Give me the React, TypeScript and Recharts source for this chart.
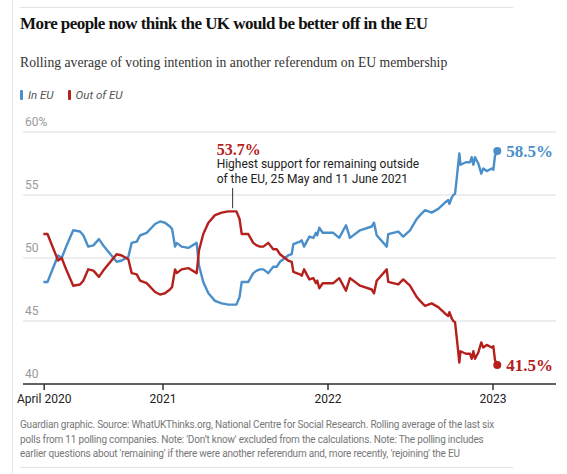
import * as React from 'react';
import { LineChart, Line, CartesianGrid, XAxis, YAxis, ReferenceLine } from 'recharts';

// poll dates as decimal years, rolling averages in %
const pollYear = [
  2020.275, 2020.3, 2020.364, 2020.386, 2020.416, 2020.456, 2020.497, 2020.517, 2020.547, 2020.578,
  2020.612, 2020.638, 2020.719, 2020.75, 2020.79, 2020.81, 2020.841, 2020.861, 2020.901, 2020.952,
  2020.982, 2021.012, 2021.042, 2021.055, 2021.073, 2021.083, 2021.113, 2021.153, 2021.204, 2021.218,
  2021.244, 2021.275, 2021.315, 2021.356, 2021.396, 2021.445, 2021.464, 2021.477, 2021.517, 2021.547,
  2021.568, 2021.588, 2021.608, 2021.638, 2021.668, 2021.689, 2021.709, 2021.739, 2021.758, 2021.78,
  2021.79, 2021.83, 2021.841, 2021.855, 2021.887, 2021.911, 2021.927, 2021.935, 2021.947, 2021.968,
  2022.032, 2022.068, 2022.109, 2022.133, 2022.194, 2022.265, 2022.279, 2022.295, 2022.356, 2022.365,
  2022.426, 2022.456, 2022.497, 2022.538, 2022.558, 2022.588, 2022.628, 2022.668, 2022.709, 2022.729,
  2022.736, 2022.75, 2022.759, 2022.77, 2022.78, 2022.796, 2022.803, 2022.836, 2022.861, 2022.871,
  2022.881, 2022.891, 2022.911, 2022.929, 2022.941, 2022.962, 2022.992, 2023.002, 2023.012, 2023.026,
];

const inEU = [
  48.1, 48.1, 50.2, 50.0, 51.0, 52.2, 52.1, 51.8, 50.9, 51.0,
  51.5, 51.0, 49.7, 49.8, 50.1, 51.2, 51.3, 51.8, 52.0, 52.7,
  52.9, 52.8, 52.5, 52.3, 50.9, 51.2, 50.9, 50.8, 51.2, 49.4,
  48.1, 47.2, 46.6, 46.4, 46.3, 46.3, 46.9, 48.1, 48.1, 48.8,
  49.0, 49.1, 49.1, 48.8, 49.3, 49.3, 49.7, 50.0, 50.2, 50.3,
  51.1, 51.3, 51.4, 50.9, 51.7, 51.6, 52.0, 51.8, 52.4, 52.0,
  52.0, 51.6, 52.6, 51.6, 52.2, 52.5, 52.8, 51.8, 50.9, 51.9,
  52.1, 51.7, 52.2, 53.1, 53.4, 53.8, 53.6, 53.9, 54.4, 54.6,
  54.3, 54.8, 55.0, 55.1, 56.3, 58.3, 57.4, 57.6, 57.6, 58.0,
  57.4, 58.0, 57.5, 56.7, 57.1, 56.9, 57.1, 57.0, 58.1, 58.5,
];

const outOfEU = [
  51.9, 51.9, 49.8, 50.0, 49.0, 47.8, 47.9, 48.2, 49.1, 49.0,
  48.5, 49.0, 50.3, 50.2, 49.9, 48.8, 48.7, 48.2, 48.0, 47.3,
  47.1, 47.2, 47.5, 47.7, 49.1, 48.8, 49.1, 49.2, 48.8, 50.6,
  51.9, 52.8, 53.4, 53.6, 53.7, 53.7, 53.1, 51.9, 51.9, 51.2,
  51.0, 50.9, 50.9, 51.2, 50.7, 50.7, 50.3, 50.0, 49.8, 49.7,
  48.9, 48.7, 48.6, 49.1, 48.3, 48.4, 48.0, 48.2, 47.6, 48.0,
  48.0, 48.4, 47.4, 48.4, 47.8, 47.5, 47.2, 48.2, 49.1, 48.1,
  47.9, 48.3, 47.8, 46.9, 46.6, 46.2, 46.4, 46.1, 45.6, 45.4,
  45.7, 45.2, 45.0, 44.9, 43.7, 41.7, 42.6, 42.4, 42.4, 42.0,
  42.6, 42.0, 42.5, 43.3, 42.9, 43.1, 42.9, 43.0, 41.9, 41.5,
];

const xTicks = [2020.28, 2021, 2022, 2023];
const xTickLabels = ['April 2020', '2021', '2022', '2023'];
const yTicks = [40, 45, 50, 55, 60];

// peak of the "Out of EU" line, 25 May – 11 June 2021
const peakYear = 2021.422;
const peakValue = 53.7;

const BLUE = '#4a8fca';
const RED = '#b5201c';
const SANS = 'Roboto, "Open Sans", sans-serif';
const SERIF = '"Liberation Serif", "DejaVu Serif", serif';

const rows = pollYear.map((t, i) => ({ t, inEU: inEU[i], outOfEU: outOfEU[i] }));
const last = rows.length - 1;

const footnote = [
  'Guardian graphic. Source: WhatUKThinks.org, National Centre for Social Research. Rolling average of the last six',
  "polls from 11 polling companies. Note: 'Don\u2019t know' excluded from the calculations. Note: The polling includes",
  "earlier questions about 'remaining' if there were another referendum and, more recently, 'rejoining' the EU",
];

const YTick = (props: any) => {
  const { y, payload } = props;
  return (
    <text x={25} y={y - 6} fill="#9a9a9a" fontSize={12} fontFamily={SANS}>
      {payload.value === 60 ? '60%' : payload.value}
    </text>
  );
};

const endDot = (color: string) => (props: any) => {
  const { cx, cy, index } = props;
  if (index !== last) return <g key={index} />;
  return <circle key={index} cx={cx} cy={cy} r={4} fill={color} />;
};

const endLabel = (color: string) => (props: any) => {
  const { x, y, index, value } = props;
  if (index !== last) return null;
  return (
    <text x={x + 9} y={y + 6} fill={color} fontSize={17} fontWeight={700} fontFamily={SERIF}>
      {value}%
    </text>
  );
};

const PeakNote = (props: any) => {
  const { viewBox } = props;
  const x = viewBox.x - 16;
  const y = viewBox.y;
  return (
    <g>
      <text x={x} y={y - 33} fill={RED} fontSize={16} fontWeight={700} fontFamily={SERIF}>
        {peakValue}%
      </text>
      <text x={x} y={y - 20} fill="#222" fontSize={12} fontFamily={SANS}>
        Highest support for remaining outside
      </text>
      <text x={x} y={y - 5} fill="#222" fontSize={12} fontFamily={SANS}>
        of the EU, 25 May and 11 June 2021
      </text>
    </g>
  );
};

const Swatch = ({ color }: { color: string }) => (
  <span style={{ display: 'inline-block', width: 3, height: 10, borderRadius: 1, background: color, marginRight: 5, verticalAlign: -1 }} />
);

export default function App() {
  return (
    <div style={{ position: 'absolute', left: 0, top: 0, width: 567, height: 474, background: '#fff', overflow: 'hidden' }}>
      <div style={{ position: 'absolute', left: 12, top: 0, width: 1, height: 474, background: '#e6e6e6' }} />
      <div style={{ position: 'absolute', left: 20, top: 7, width: 493, height: 1, background: '#e2e2e2' }} />
      <div style={{ position: 'absolute', left: 20, top: 467, width: 493, height: 1, background: '#e2e2e2' }} />

      <LineChart
        width={567}
        height={474}
        data={rows}
        margin={{ top: 132, right: 11, bottom: 60, left: 22 }}
        style={{ position: 'absolute', left: 0, top: 0 }}
      >
        <CartesianGrid vertical={false} stroke="#dcdcdc" strokeWidth={1} />
        <XAxis
          dataKey="t"
          type="number"
          domain={[2020.1515, 2023.3818]}
          ticks={xTicks}
          tickFormatter={(v: number) => xTickLabels[xTicks.indexOf(v)]}
          height={30}
          axisLine={{ stroke: '#333', strokeWidth: 1.5 }}
          tickLine={{ stroke: '#333', strokeWidth: 1.5 }}
          tickSize={6}
          tickMargin={4}
          tick={{ fill: '#222', fontSize: 12, fontFamily: SANS }}
          interval={0}
        />
        <YAxis
          domain={[40, 60]}
          ticks={yTicks}
          width={1}
          axisLine={false}
          tickLine={false}
          tick={<YTick />}
          interval={0}
        />
        <ReferenceLine
          segment={[{ x: peakYear, y: 53.95 }, { x: peakYear, y: 55.55 }]}
          stroke="#333"
          strokeWidth={1}
          label={<PeakNote />}
        />
        <Line
          dataKey="inEU"
          type="linear"
          stroke={BLUE}
          strokeWidth={2.4}
          strokeLinejoin="round"
          dot={endDot(BLUE)}
          activeDot={false}
          label={endLabel(BLUE)}
          isAnimationActive={false}
        />
        <Line
          dataKey="outOfEU"
          type="linear"
          stroke={RED}
          strokeWidth={2.4}
          strokeLinejoin="round"
          dot={endDot(RED)}
          activeDot={false}
          label={endLabel(RED)}
          isAnimationActive={false}
        />
      </LineChart>

      <div style={{ position: 'absolute', left: 20, top: 14, fontFamily: SERIF, fontWeight: 700, fontSize: 17, color: '#121212', whiteSpace: 'nowrap', letterSpacing: -0.55 }}>
        More people now think the UK would be better off in the EU
      </div>
      <div style={{ position: 'absolute', left: 20, top: 55, fontFamily: SERIF, fontSize: 13.7, color: '#333', whiteSpace: 'nowrap' }}>
        Rolling average of voting intention in another referendum on EU membership
      </div>
      <div style={{ position: 'absolute', left: 20, top: 88, fontFamily: SANS, fontStyle: 'italic', fontSize: 11.5, color: '#555', whiteSpace: 'nowrap' }}>
        <Swatch color={BLUE} />In EU
        <span style={{ display: 'inline-block', width: 14 }} />
        <Swatch color={RED} />Out of EU
      </div>
      <div style={{ position: 'absolute', left: 20, top: 418, fontFamily: SANS, fontSize: 10, letterSpacing: -0.2, lineHeight: '14.5px', color: '#777', whiteSpace: 'nowrap' }}>
        {footnote.map((line) => (
          <div key={line}>{line}</div>
        ))}
      </div>
    </div>
  );
}
